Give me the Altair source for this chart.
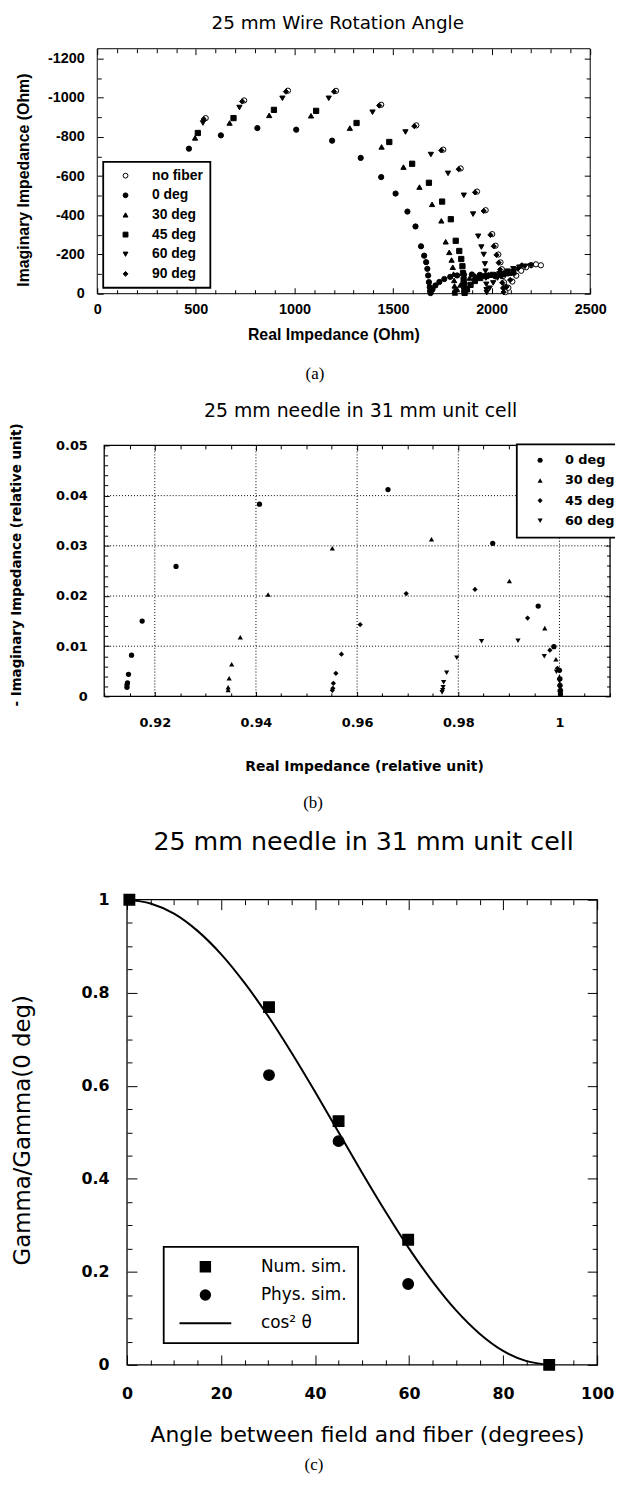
import altair as alt
import pandas as pd

W, H = 612, 1470

# ================= Panel (a) data =================
a_series = ["no fiber", "0 deg", "30 deg", "45 deg", "60 deg", "90 deg"]
a_shapes = ["circle", "circle", "triangle-up", "square", "triangle-down", "diamond"]
a_fills = ["white", "black", "black", "black", "black", "black"]

a_nofiber_re = [550, 745, 967, 1211, 1440, 1618, 1755, 1843, 1926, 1970, 2003, 2020, 2034, 2045, 2052, 2058, 2063, 2067, 2070, 2085, 2105, 2125, 2150, 2175, 2200, 2225, 2250]
a_nofiber_im = [-896, -986, -1036, -1035, -964, -859, -735, -639, -521, -426, -304, -245, -200, -160, -125, -90, -58, -30, -8, -30, -62, -92, -117, -135, -146, -150, -145]
a_0_re = [465, 627, 812, 1009, 1191, 1336, 1440, 1513, 1573, 1614, 1642, 1658, 1668, 1674, 1678, 1682, 1686, 1688, 1690, 1700, 1715, 1735, 1760, 1790, 1825, 1860, 1900, 1940, 1980, 2020]
a_0_im = [-740, -808, -845, -837, -781, -693, -595, -511, -419, -343, -242, -194, -161, -127, -93, -59, -34, -14, -3, -22, -42, -60, -75, -86, -93, -97, -98, -96, -92, -88]
a_30_re = [496, 671, 872, 1084, 1281, 1442, 1553, 1634, 1698, 1745, 1767, 1785, 1797, 1803, 1807, 1810, 1812, 1813, 1814, 1825, 1842, 1862, 1888, 1918, 1950, 1985, 2020, 2055, 2090]
a_30_im = [-795, -871, -910, -908, -845, -749, -646, -544, -456, -372, -265, -211, -172, -135, -100, -68, -40, -18, -4, -22, -45, -65, -80, -90, -95, -97, -98, -100, -105]
a_45_re = [510, 691, 896, 1110, 1315, 1481, 1597, 1682, 1749, 1793, 1818, 1836, 1846, 1852, 1855, 1858, 1860, 1862, 1863, 1875, 1893, 1915, 1942, 1972, 2005, 2040, 2075, 2110]
a_45_im = [-820, -896, -938, -933, -871, -774, -663, -566, -470, -380, -270, -218, -177, -140, -105, -72, -42, -18, -4, -22, -45, -65, -80, -90, -96, -100, -104, -110]
a_60_re = [536, 721, 939, 1174, 1396, 1563, 1692, 1779, 1859, 1906, 1932, 1948, 1960, 1966, 1969, 1971, 1973, 1974, 1975, 1990, 2008, 2030, 2055, 2082, 2110, 2140, 2170, 2200]
a_60_im = [-871, -950, -997, -997, -926, -825, -710, -614, -502, -406, -293, -238, -200, -152, -115, -80, -48, -20, -5, -28, -55, -80, -100, -115, -127, -135, -140, -142]
a_90_re = [540, 735, 957, 1201, 1430, 1608, 1745, 1833, 1916, 1960, 1994, 2011, 2025, 2036, 2043, 2049, 2054, 2058, 2061, 2076, 2094, 2113, 2133, 2153]
a_90_im = [-891, -981, -1031, -1031, -960, -855, -731, -635, -517, -422, -300, -242, -198, -158, -123, -88, -56, -29, -8, -35, -70, -102, -128, -145]

a_xlabels = [0, 500, 1000, 1500, 2000, 2500]
a_ylabels = [0, -200, -400, -600, -800, -1000, -1200]
a_xticks = [0, 100, 200, 300, 400, 500, 600, 700, 800, 900, 1000, 1100, 1200, 1300, 1400, 1500, 1600, 1700, 1800, 1900, 2000, 2100, 2200, 2300, 2400, 2500]
a_yticks = [0, -100, -200, -300, -400, -500, -600, -700, -800, -900, -1000, -1100, -1200]

# ================= Panel (b) data =================
b_series = ["0 deg", "30 deg", "45 deg", "60 deg"]
b_shapes = ["circle", "triangle-up", "diamond", "triangle-down"]
b_0_re = [0.9145, 0.9145, 0.9146, 0.9148, 0.9154, 0.9175, 0.9242, 0.9407, 0.9661, 0.9868, 0.9958, 0.9989, 1.0000, 1.0001, 1.0001, 1.0002, 1.0002]
b_0_im = [0.0018, 0.0023, 0.0027, 0.0044, 0.0082, 0.0150, 0.0259, 0.0383, 0.0412, 0.0305, 0.0180, 0.0099, 0.0052, 0.0035, 0.0022, 0.0012, 0.0005]
b_30_re = [0.9345, 0.9345, 0.9347, 0.9352, 0.9369, 0.9424, 0.9551, 0.9747, 0.9901, 0.9971, 0.9993, 1.0000, 1.0001, 1.0001, 1.0002]
b_30_im = [0.0013, 0.0018, 0.0036, 0.0064, 0.0118, 0.0203, 0.0295, 0.0313, 0.0230, 0.0136, 0.0074, 0.0039, 0.0025, 0.0014, 0.0006]
b_45_re = [0.9551, 0.9552, 0.9553, 0.9558, 0.9569, 0.9606, 0.9697, 0.9833, 0.9937, 0.9981, 0.9996, 1.0000, 1.0001, 1.0001, 1.0002]
b_45_im = [0.0012, 0.0016, 0.0026, 0.0046, 0.0084, 0.0143, 0.0205, 0.0213, 0.0156, 0.0092, 0.0056, 0.0034, 0.0020, 0.0010, 0.0004]
b_60_re = [0.9768, 0.9769, 0.9770, 0.9771, 0.9777, 0.9797, 0.9846, 0.9918, 0.9970, 0.9994, 1.0000, 1.0001, 1.0001, 1.0002]
b_60_im = [0.0008, 0.0012, 0.0018, 0.0028, 0.0047, 0.0077, 0.0110, 0.0111, 0.0080, 0.0049, 0.0030, 0.0018, 0.0009, 0.0003]

b_xlabels = [0.92, 0.94, 0.96, 0.98, 1.0]
b_ylabels = [0, 0.01, 0.02, 0.03, 0.04, 0.05]
b_xgrid = [0.92, 0.94, 0.96, 0.98, 1.0]
b_ygrid = [0.01, 0.02, 0.03, 0.04]
b_xticks = [0.91, 0.915, 0.92, 0.925, 0.93, 0.935, 0.94, 0.945, 0.95, 0.955, 0.96, 0.965, 0.97, 0.975, 0.98, 0.985, 0.99, 0.995, 1.0, 1.005, 1.01]
b_yticks = [0, 0.002, 0.004, 0.006, 0.008, 0.01, 0.012, 0.014, 0.016, 0.018, 0.02, 0.022, 0.024, 0.026, 0.028, 0.03, 0.032, 0.034, 0.036, 0.038, 0.04, 0.042, 0.044, 0.046, 0.048, 0.05]

# ================= Panel (c) data =================
c_series = ["Num. sim.", "Phys. sim.", "cos\u00b2 \u03b8"]
c_shapes = ["square", "circle", "M-5.5,0H5.5"]
c_num_angle = [0.5, 30.2, 45.0, 59.8, 89.8]
c_num_gamma = [1.0, 0.769, 0.524, 0.269, 0.0]
c_phys_angle = [30.2, 45.0, 59.8]
c_phys_gamma = [0.623, 0.481, 0.174]
c_curve_angle = [0, 5, 10, 15, 20, 25, 30, 35, 40, 45, 50, 55, 60, 65, 70, 75, 80, 85, 90]
c_curve_gamma = [1.0, 0.992, 0.970, 0.933, 0.883, 0.821, 0.750, 0.671, 0.587, 0.500, 0.413, 0.329, 0.250, 0.179, 0.117, 0.067, 0.030, 0.008, 0.0]

c_xlabels = [0, 20, 40, 60, 80, 100]
c_ylabels = [0, 0.2, 0.4, 0.6, 0.8, 1]
c_xticks = [0, 5, 10, 15, 20, 25, 30, 35, 40, 45, 50, 55, 60, 65, 70, 75, 80, 85, 90, 95, 100]
c_yticks = [0, 0.05, 0.1, 0.15, 0.2, 0.25, 0.3, 0.35, 0.4, 0.45, 0.5, 0.55, 0.6, 0.65, 0.7, 0.75, 0.8, 0.85, 0.9, 0.95, 1.0]

# ================= layout (pixels inside the chart group) =================
A_L, A_R, A_T, A_B = 90, 587, 35, 282
B_L, B_R, B_T, B_B = 97, 607, 435, 688
C_L, C_R, C_T, C_B = 120, 594, 893, 1362

SANS = "DejaVu Sans"
ARIAL = "Liberation Sans"
SERIF = "Liberation Serif"


def scl(dom, rng):
    return alt.Scale(domain=dom, range=rng, nice=False, zero=False)


def tick_axis(orient, offset, values, test, major, minor):
    return alt.Axis(orient=orient, offset=offset, values=values, labels=False,
                    domain=False, grid=False, ticks=True, tickColor="black",
                    tickWidth=1,
                    tickSize={"condition": {"test": test, "value": major}, "value": minor},
                    title=None)


def carrier_axis(orient, text, tx, ty, font, size, weight="normal"):
    return alt.Axis(orient=orient, offset=0, labels=False, ticks=False,
                    domain=False, grid=False, title=text, titleX=tx, titleY=ty,
                    titleFont=font, titleFontSize=size, titleFontWeight=weight,
                    titleColor="black", titleAngle=0, titleAlign="center",
                    titleBaseline="middle")


def label_axis(orient, offset, values, expr, lfont, lsize, lweight, pad,
               title, tx, ty, tfont, tsize, tweight, tangle):
    return alt.Axis(orient=orient, offset=offset, values=values, labelExpr=expr,
                    ticks=False, domain=False, grid=False, labelFont=lfont,
                    labelFontSize=lsize, labelFontWeight=lweight,
                    labelColor="black", labelPadding=pad, labelFlush=False,
                    labelOverlap=False, title=title, titleX=tx, titleY=ty,
                    titleFont=tfont, titleFontSize=tsize,
                    titleFontWeight=tweight, titleColor="black",
                    titleAngle=tangle, titleAlign="center",
                    titleBaseline="middle")


def long_df(groups, xname, yname):
    rows = []
    for name, xs, ys in groups:
        for xv, yv in zip(xs, ys):
            rows.append({"series": name, xname: xv, yname: yv})
    return pd.DataFrame(rows)


# ================= Panel (a) =================
AX = scl([0, 2500], [A_L, A_R])
AY = scl([-1250, 0], [A_T, A_B])
a_df = long_df([("no fiber", a_nofiber_re, a_nofiber_im), ("0 deg", a_0_re, a_0_im),
                ("30 deg", a_30_re, a_30_im), ("45 deg", a_45_re, a_45_im),
                ("60 deg", a_60_re, a_60_im), ("90 deg", a_90_re, a_90_im)], "re", "im")
a_frame = pd.DataFrame({"x0": [0], "x1": [2500], "y0": [-1250], "y1": [0]})

a_points = alt.Chart(a_df).mark_point(filled=True, size=28, strokeWidth=1, opacity=1).encode(
    x=alt.X("re:Q", scale=AX, axis=label_axis(
        "bottom", A_B - H, a_xlabels, "format(datum.value, 'd')", ARIAL, 14.5, "bold", 8.5,
        "Real Impedance (Ohm)", 328, 41, ARIAL, 16, "bold", 0)),
    y=alt.Y("im:Q", scale=AY, axis=label_axis(
        "left", -A_L, a_ylabels,
        "datum.value == 0 ? '0' : '-' + format(abs(datum.value), 'd')",
        ARIAL, 14.5, "bold", 13,
        "Imaginary Impedance (Ohm)", -74, 167, ARIAL, 16, "bold", 270)),
    shape=alt.Shape("series:N", scale=alt.Scale(domain=a_series, range=a_shapes),
                    legend=alt.Legend(orient="none", legendX=96, legendY=149, title=None,
                                      padding=7, strokeColor="black", fillColor="white",
                                      labelFont=ARIAL, labelFontSize=14, labelFontWeight="bold",
                                      labelColor="black", symbolOffset=8.5, labelOffset=19.6,
                                      rowPadding=5.8, symbolStrokeWidth=1, symbolSize=24,
                                      labelLimit=300)),
    fill=alt.Fill("series:N", scale=alt.Scale(domain=a_series, range=a_fills)),
    stroke=alt.Stroke("series:N", scale=alt.Scale(domain=a_series, range=["black"] * 6)),
)

a_box = alt.Chart(a_frame).mark_rect(fillOpacity=0, stroke="black", strokeWidth=1).encode(
    x=alt.X("x0:Q", scale=AX, axis=tick_axis("top", -A_B, a_xticks, "datum.value % 500 === 0", 6, 4)),
    x2="x1:Q",
    y=alt.Y("y0:Q", scale=AY, axis=tick_axis("right", A_L - W, a_yticks, "datum.value % 200 === 0", 6, 4)),
    y2="y1:Q",
)
a_ticks2 = alt.Chart(a_frame).mark_point(opacity=0).encode(
    x=alt.X("x0:Q", scale=AX, axis=tick_axis("bottom", A_T - H, a_xticks, "datum.value % 500 === 0", 6, 4)),
    y=alt.Y("y0:Q", scale=AY, axis=tick_axis("left", -A_R, a_yticks, "datum.value % 200 === 0", 6, 4)),
)
a_titles = alt.Chart(a_frame).mark_point(opacity=0).encode(
    x=alt.X("x1:Q", scale=AX, axis=carrier_axis("top", "25 mm Wire Rotation Angle", 332, 9, SANS, 18.5)),
    y=alt.Y("y1:Q", scale=AY, axis=carrier_axis("left", "(a)", 309, 362, SERIF, 17)),
)
panel_a = alt.layer(a_box, a_points, a_ticks2, a_titles).resolve_axis(x="independent", y="independent")

# ================= Panel (b) =================
BX = scl([0.91, 1.01], [B_L, B_R])
BY = scl([0, 0.05], [B_B, B_T])
b_df = long_df([("0 deg", b_0_re, b_0_im), ("30 deg", b_30_re, b_30_im),
                ("45 deg", b_45_re, b_45_im), ("60 deg", b_60_re, b_60_im)], "re", "im")
b_frame = pd.DataFrame({"x0": [0.91], "x1": [1.01], "y0": [0.0], "y1": [0.05]})
b_vg = pd.DataFrame({"gx": b_xgrid, "y0": [0.0] * len(b_xgrid), "y1": [0.05] * len(b_xgrid)})
b_hg = pd.DataFrame({"gy": b_ygrid, "x0": [0.91] * len(b_ygrid), "x1": [1.01] * len(b_ygrid)})

b_xtest = "abs(datum.value * 50 - round(datum.value * 50)) < 0.001"
b_ytest = "abs(datum.value * 100 - round(datum.value * 100)) < 0.001"

b_vgrid = alt.Chart(b_vg).mark_rule(color="black", strokeWidth=1, strokeDash=[1, 2]).encode(
    x=alt.X("gx:Q", scale=BX, axis=None), y=alt.Y("y0:Q", scale=BY, axis=None), y2="y1:Q")
b_hgrid = alt.Chart(b_hg).mark_rule(color="black", strokeWidth=1, strokeDash=[1, 2]).encode(
    y=alt.Y("gy:Q", scale=BY, axis=None), x=alt.X("x0:Q", scale=BX, axis=None), x2="x1:Q")
b_box = alt.Chart(b_frame).mark_rect(fillOpacity=0, stroke="black", strokeWidth=1.3).encode(
    x=alt.X("x0:Q", scale=BX, axis=tick_axis("top", -B_B, b_xticks, b_xtest, 5, 3.5)),
    x2="x1:Q",
    y=alt.Y("y0:Q", scale=BY, axis=tick_axis("right", B_L - W, b_yticks, b_ytest, 5, 3.5)),
    y2="y1:Q",
)
b_ticks2 = alt.Chart(b_frame).mark_point(opacity=0).encode(
    x=alt.X("x0:Q", scale=BX, axis=tick_axis("bottom", B_T - H, b_xticks, b_xtest, 5, 3.5)),
    y=alt.Y("y0:Q", scale=BY, axis=tick_axis("left", -B_R, b_yticks, b_ytest, 5, 3.5)),
)
b_points = alt.Chart(b_df).mark_point(filled=True, size=28, color="black", opacity=1).encode(
    x=alt.X("re:Q", scale=BX, axis=label_axis(
        "bottom", B_B - H, b_xlabels, "datum.value > 0.999 ? '1' : format(datum.value, '.2f')",
        SANS, 13, "bold", 20.4,
        "Real Impedance (relative unit)", 359, 71, SANS, 14, "bold", 0)),
    y=alt.Y("im:Q", scale=BY, axis=label_axis(
        "left", -B_L, b_ylabels, "datum.value == 0 ? '0' : format(datum.value, '.2f')",
        SANS, 13, "bold", 17,
        "- Imaginary Impedance (relative unit)", -88, 555, SANS, 13.5, "bold", 270)),
    shape=alt.Shape("series:N", scale=alt.Scale(domain=b_series, range=b_shapes),
                    legend=alt.Legend(orient="none", legendX=513, legendY=434, title=None,
                                      padding=9.5, strokeColor="black", fillColor="white",
                                      labelFont=SANS, labelFontSize=13, labelFontWeight="bold",
                                      labelColor="black", symbolOffset=7.5, labelOffset=18.5,
                                      rowPadding=6.3, symbolFillColor="black", symbolSize=26,
                                      labelLimit=300)),
)
b_titles = alt.Chart(b_frame).mark_point(opacity=0).encode(
    x=alt.X("x1:Q", scale=BX, axis=carrier_axis("top", "25 mm needle in 31 mm unit cell", 355, 400, SANS, 19)),
    y=alt.Y("y1:Q", scale=BY, axis=carrier_axis("left", "(b)", 307, 795, SERIF, 17)),
)
panel_b = alt.layer(b_vgrid, b_hgrid, b_box, b_points, b_ticks2, b_titles).resolve_axis(
    x="independent", y="independent")

# ================= Panel (c) =================
CX = scl([0, 100], [C_L, C_R])
CY = scl([0, 1], [C_B, C_T])
c_df = long_df([("Num. sim.", c_num_angle, c_num_gamma),
                ("Phys. sim.", c_phys_angle, c_phys_gamma)], "angle", "gamma")
c_curve = pd.DataFrame({"angle": c_curve_angle, "gamma": c_curve_gamma})
c_frame = pd.DataFrame({"x0": [0], "x1": [100], "y0": [0.0], "y1": [1.0]})

c_xtest = "datum.value % 20 === 0"
c_ytest = "abs(datum.value * 5 - round(datum.value * 5)) < 0.001"

c_box = alt.Chart(c_frame).mark_rect(fillOpacity=0, stroke="black", strokeWidth=1.3).encode(
    x=alt.X("x0:Q", scale=CX, axis=tick_axis("top", -C_B, c_xticks, c_xtest, 10, 5)),
    x2="x1:Q",
    y=alt.Y("y0:Q", scale=CY, axis=tick_axis("right", C_L - W, c_yticks, c_ytest, 10, 5)),
    y2="y1:Q",
)
c_ticks2 = alt.Chart(c_frame).mark_point(opacity=0).encode(
    x=alt.X("x0:Q", scale=CX, axis=tick_axis("bottom", C_T - H, c_xticks, c_xtest, 10, 5)),
    y=alt.Y("y0:Q", scale=CY, axis=tick_axis("left", -C_R, c_yticks, c_ytest, 10, 5)),
)
c_line = alt.Chart(c_curve).mark_line(color="black", strokeWidth=2, interpolate="monotone").encode(
    x=alt.X("angle:Q", scale=CX, axis=None), y=alt.Y("gamma:Q", scale=CY, axis=None))
c_points = alt.Chart(c_df).mark_point(filled=True, size=110, strokeWidth=1.5, opacity=1).encode(
    x=alt.X("angle:Q", scale=CX, axis=label_axis(
        "bottom", C_B - H, c_xlabels, "format(datum.value, 'd')", SANS, 16, "bold", 21,
        "Angle between field and fiber (degrees)", 362, 70, SANS, 22, "normal", 0)),
    y=alt.Y("gamma:Q", scale=CY, axis=label_axis(
        "left", -C_L, c_ylabels,
        "datum.value == 0 ? '0' : datum.value == 1 ? '1' : format(datum.value, '.1f')",
        SANS, 16, "bold", 18,
        "Gamma/Gamma(0 deg)", -105, 1125, SANS, 23, "normal", 270)),
    shape=alt.Shape("series:N", scale=alt.Scale(domain=c_series, range=c_shapes),
                    legend=alt.Legend(orient="none", legendX=157, legendY=1243, title=None,
                                      padding=11.5, strokeColor="black", fillColor="white",
                                      labelFont=SANS, labelFontSize=17, labelColor="black",
                                      symbolOffset=22, labelOffset=47.5, rowPadding=9.5,
                                      symbolStrokeWidth=2, symbolSize=90, labelLimit=300)),
    fill=alt.Fill("series:N", scale=alt.Scale(domain=c_series, range=["black"] * 3)),
    stroke=alt.Stroke("series:N", scale=alt.Scale(domain=c_series, range=["black"] * 3)),
)
c_titles = alt.Chart(c_frame).mark_point(opacity=0).encode(
    x=alt.X("x1:Q", scale=CX, axis=carrier_axis("top", "25 mm needle in 31 mm unit cell", 358, 834, SANS, 25.5)),
    y=alt.Y("y1:Q", scale=CY, axis=carrier_axis("left", "(c)", 308, 1462, SERIF, 17)),
)
panel_c = alt.layer(c_box, c_line, c_points, c_ticks2, c_titles).resolve_axis(
    x="independent", y="independent")

chart = alt.layer(panel_a, panel_b, panel_c).resolve_scale(
    x="independent", y="independent", shape="independent", fill="independent", stroke="independent"
).resolve_axis(x="independent", y="independent").resolve_legend(
    shape="independent", fill="independent", stroke="independent"
).properties(
    width=W, height=H, padding=0, autosize=alt.AutoSizeParams(type="none")
).configure_view(strokeWidth=0).configure_legend(strokeWidth=1.8)

chart.save("out.html", embed_options={"renderer": "svg", "actions": False})
